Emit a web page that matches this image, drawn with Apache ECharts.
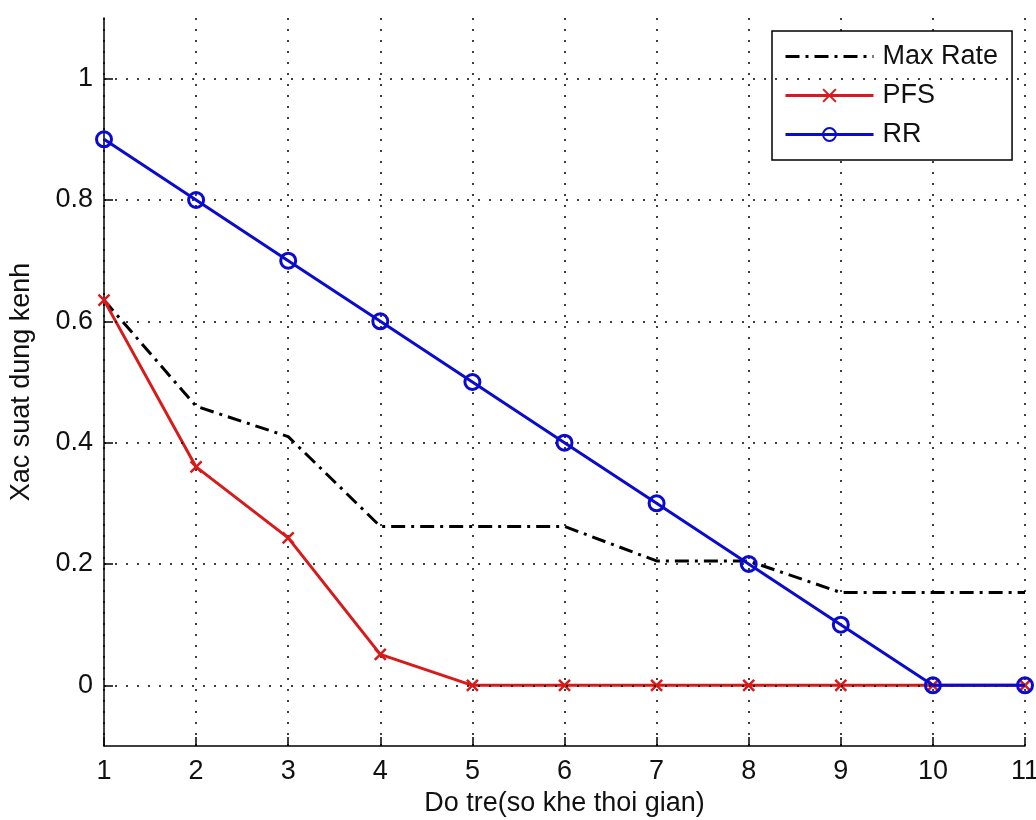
<!DOCTYPE html>
<html>
<head>
<meta charset="utf-8">
<script src="https://cdn.jsdelivr.net/npm/echarts@6/dist/echarts.min.js"></script>
<style>
html,body{margin:0;padding:0;background:#fff;}
#chart{width:1036px;height:820px;}
</style>
</head>
<body>
<div id="chart"></div>
<script>
const xValues = [1, 2, 3, 4, 5, 6, 7, 8, 9, 10, 11];
const maxRate = [0.635, 0.46, 0.41, 0.262, 0.262, 0.262, 0.205, 0.205, 0.153, 0.153, 0.153];
const pfs = [0.635, 0.36, 0.243, 0.051, 0, 0, 0, 0, 0, 0, 0];
const rr = [0.9, 0.8, 0.7, 0.6, 0.5, 0.4, 0.3, 0.2, 0.1, 0, 0];
const yTicks = [0, 0.2, 0.4, 0.6, 0.8, 1];
const seriesNames = ['Max Rate', 'PFS', 'RR'];
const xName = 'Do tre(so khe thoi gian)';
const yName = 'Xac suat dung kenh';

const FONT = 'Liberation Sans';
const FS = 27;
const dotted = [2, 9];
const pairs = arr => xValues.map((x, i) => [x, arr[i]]);

const chart = echarts.init(document.getElementById('chart'), null, {renderer: 'canvas'});
chart.setOption({
  backgroundColor: '#fff',
  animation: false,
  textStyle: {fontFamily: FONT},
  grid: {left: 104, right: 11, top: 18, bottom: 74, containLabel: false, outerBoundsMode: 'none'},
  legend: {
    orient: 'vertical',
    left: 772, top: 31,
    data: [
      {name: seriesNames[0], itemStyle: {opacity: 0}, lineStyle: {width: 3}},
      {name: seriesNames[1], lineStyle: {width: 3}},
      {name: seriesNames[2], lineStyle: {width: 3}}
    ],
    backgroundColor: '#fff',
    borderColor: '#000',
    borderWidth: 1.5,
    borderRadius: 0,
    padding: [12, 14, 12, 12],
    itemWidth: 88,
    itemHeight: 16,
    itemGap: 12,
    textStyle: {fontFamily: FONT, fontSize: FS, color: '#111', padding: [0, 0, 0, 4]}
  },
  xAxis: {
    type: 'value',
    min: 1, max: 11, interval: 1,
    name: xName,
    nameLocation: 'middle',
    nameGap: 44,
    nameTextStyle: {fontFamily: FONT, fontSize: FS, color: '#111'},
    axisLine: {show: true, onZero: false, lineStyle: {color: '#000', width: 1.5}},
    axisTick: {show: true, inside: true, length: 9, lineStyle: {color: '#000', width: 1.5}},
    axisLabel: {fontFamily: FONT, fontSize: FS, color: '#111', margin: 12},
    splitLine: {show: true, lineStyle: {color: '#000', width: 1.5, type: dotted}}
  },
  yAxis: {
    type: 'value',
    min: -0.1, max: 1.1,
    name: yName,
    nameLocation: 'middle',
    nameRotate: 90,
    nameGap: 69,
    nameTextStyle: {fontFamily: FONT, fontSize: FS, color: '#111'},
    axisLine: {show: true, onZero: false, lineStyle: {color: '#000', width: 1.5}},
    axisTick: {show: true, inside: true, length: 9, customValues: yTicks, lineStyle: {color: '#000', width: 1.5}},
    axisLabel: {
      fontFamily: FONT, fontSize: FS, color: '#111', margin: 11,
      customValues: yTicks,
      formatter: v => String(+(+v).toFixed(1))
    },
    splitLine: {show: false}
  },
  series: [
    {
      name: '__grid',
      type: 'line',
      data: [],
      silent: true,
      z: 1,
      markLine: {
        silent: true,
        symbol: ['none', 'none'],
        label: {show: false},
        animation: false,
        lineStyle: {color: '#000', width: 1.5, type: dotted},
        data: yTicks.map(v => ({yAxis: v}))
      }
    },
    {
      name: seriesNames[0],
      type: 'line',
      data: pairs(maxRate),
      showSymbol: false,
      symbol: 'none',
      z: 3,
      lineStyle: {color: '#000', width: 3, type: [14, 6, 3, 6]},
      itemStyle: {color: '#000'}
    },
    {
      name: seriesNames[1],
      type: 'line',
      data: pairs(pfs),
      symbol: 'path://M0,0L10,10M10,0L0,10',
      symbolSize: 11,
      z: 4,
      lineStyle: {color: '#d91a1a', width: 3},
      itemStyle: {color: '#d91a1a', borderColor: '#d91a1a', borderWidth: 2.5}
    },
    {
      name: seriesNames[2],
      type: 'line',
      data: pairs(rr),
      symbol: 'circle',
      symbolSize: 15,
      z: 5,
      lineStyle: {color: '#0a0ad0', width: 3},
      itemStyle: {color: 'rgba(255,255,255,0)', borderColor: '#0a0ad0', borderWidth: 3}
    }
  ]
});
</script>
</body>
</html>
